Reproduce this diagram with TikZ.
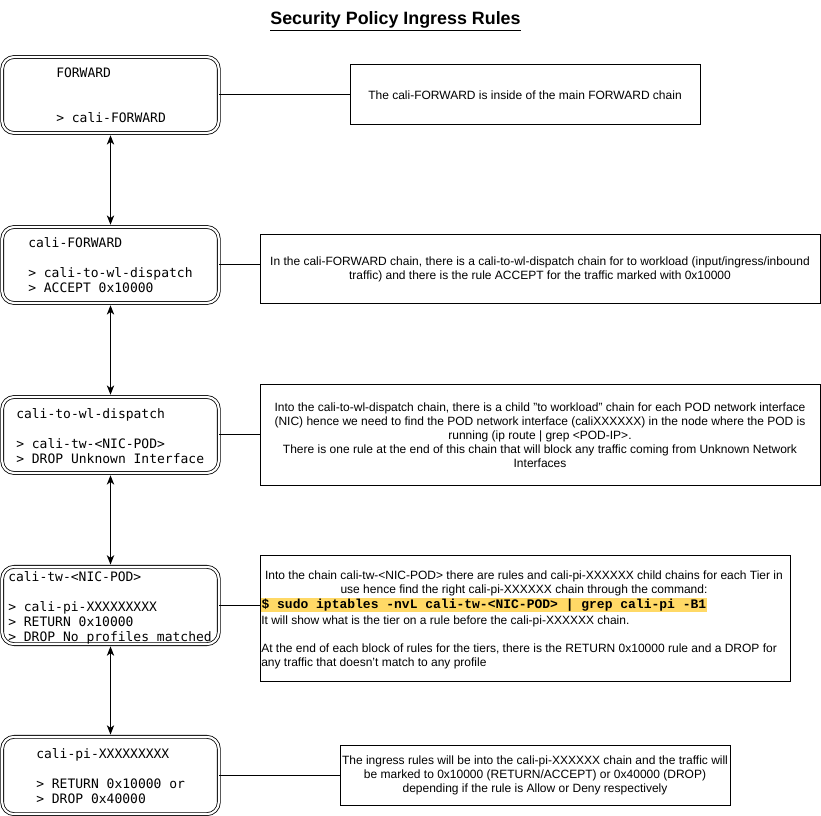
\documentclass[tikz,border=0pt]{standalone}
\usepackage{fontspec}
\setmainfont{Liberation Sans}
\newfontfamily\boxmono{DejaVu Sans Mono}
\newfontfamily\codemono{Liberation Mono}
\usetikzlibrary{arrows.meta}
\definecolor{hilite}{HTML}{FFD966}
\tikzset{
  chainbox/.style={draw, double, line width=0.6pt, double distance=1.6pt, rounded corners=9pt,
    minimum width=162.5pt, minimum height=57pt, inner sep=0pt},
  chaintext/.style={anchor=base west, align=left, inner sep=0pt,
    font=\boxmono\fontsize{9.75}{11.25}\selectfont},
  descbox/.style={draw, line width=0.75pt, inner sep=0pt, align=center,
    font=\fontsize{9}{10.5}\selectfont},
  desctext/.style={inner sep=0pt, font=\fontsize{9}{10.5}\selectfont},
  link/.style={line width=0.75pt},
  updown/.style={line width=0.8pt, {Stealth[length=7pt,width=5.5pt,inset=2pt]}-{Stealth[length=7pt,width=5.5pt,inset=2pt]}},
}
\begin{document}
\begin{tikzpicture}[x=0.75pt,y=-0.75pt]
\useasboundingbox (0,0) rectangle (821,816);
\fill[white] (0,0) rectangle (821,816);

\node[inner sep=0pt, font=\bfseries\fontsize{13.4}{15}\selectfont] (title) at (395.5,21.5) {\underline{Security Policy Ingress Rules}};

% chain boxes
\node[chainbox] (b1) at (110.5,95) {};
\node[chainbox] (b2) at (110.5,265) {};
\node[chainbox] (b3) at (110.5,435) {};
\node[chainbox, minimum height=58pt] (b4) at (110.5,605.5) {};
\node[chainbox, minimum height=58pt] (b5) at (110.5,775.5) {};

% anchor = baseline of last line
\node[chaintext] (b1t) at (56,123) {FORWARD\\[22.5pt]> cali-FORWARD};
\node[chaintext] (b2t) at (28,293) {cali-FORWARD\\[11.25pt]> cali-to-wl-dispatch\\> ACCEPT 0x10000};
\node[chaintext] (b3t) at (16,463) {cali-to-wl-dispatch\\[11.25pt]> cali-tw-<NIC-POD>\\> DROP Unknown Interface};
\node[chaintext] (b4t) at (8,641) {cali-tw-<NIC-POD>\\[11.25pt]> cali-pi-XXXXXXXXX\\> RETURN 0x10000\\> DROP No profiles matched};
\node[chaintext] (b5t) at (36,803) {cali-pi-XXXXXXXXX\\[11.25pt]> RETURN 0x10000 or\\> DROP 0x40000};

% description boxes
\node[descbox, minimum width=262.5pt, minimum height=45pt] (t1) at (525,95) {The cali-FORWARD is inside of the main FORWARD chain};
\node[descbox, minimum width=420pt, minimum height=51.75pt] (t2) at (540,269.5) {In the cali-FORWARD chain, there is a cali-to-wl-dispatch chain for to workload (input/ingress/inbound\\traffic) and there is the rule ACCEPT for the traffic marked with 0x10000};
\node[descbox, minimum width=420pt, minimum height=75pt] (t3) at (540,435) {Into the cali-to-wl-dispatch chain, there is a child "to workload" chain for each POD network interface\\(NIC) hence we need to find the POD network interface (caliXXXXXX) in the node where the POD is\\running (ip route | grep <POD-IP>.\\There is one rule at the end of this chain that will block any traffic coming from Unknown Network\\Interfaces};
\node[descbox, minimum width=397.5pt, minimum height=94.5pt] (t4) at (525,618) {};
\node[descbox, minimum width=292.5pt, minimum height=45pt] (t5) at (535,775) {The ingress rules will be into the cali-pi-XXXXXX chain and the traffic will\\be marked to 0x10000 (RETURN/ACCEPT) or 0x40000 (DROP)\\depending if the rule is Allow or Deny respectively};

\node[desctext, align=center] (t4a) at (524,583) {Into the chain cali-tw-<NIC-POD> there are rules and cali-pi-XXXXXX child chains for each Tier in\\use hence find the right cali-pi-XXXXXX chain through the command:};
\node[anchor=west, fill=hilite, inner xsep=0.6pt, inner ysep=0pt, minimum height=10.5pt,
  font=\codemono\bfseries\fontsize{9.75}{10.5}\selectfont] (t4cmd) at (260.5,605) {\$ sudo iptables -nvL cali-tw-<NIC-POD> | grep cali-pi -B1};
\node[desctext, anchor=base west, align=left] (t4b) at (261,666) {It will show what is the tier on a rule before the cali-pi-XXXXXX chain.\\[10.5pt]At the end of each block of rules for the tiers, there is the RETURN 0x10000 rule and a DROP for\\any traffic that doesn't match to any profile};

% links
\draw[link] (b1.east) -- (b1.east -| t1.west);
\draw[link] (b2.east) -- (b2.east -| t2.west);
\draw[link] (b3.east) -- (b3.east -| t3.west);
\draw[link] (b4.east) -- (b4.east -| t4.west);
\draw[link] (b5.east) -- (b5.east -| t5.west);

% arrows
\draw[updown] ([yshift=-1.4pt]b1.south) -- ([yshift=1.4pt]b2.north);
\draw[updown] ([yshift=-1.4pt]b2.south) -- ([yshift=1.4pt]b3.north);
\draw[updown, line width=1pt] ([yshift=-1.4pt]b3.south) -- ([yshift=1.4pt]b4.north);
\draw[updown] ([yshift=-1.4pt]b4.south) -- ([yshift=1.4pt]b5.north);
\end{tikzpicture}
\end{document}
